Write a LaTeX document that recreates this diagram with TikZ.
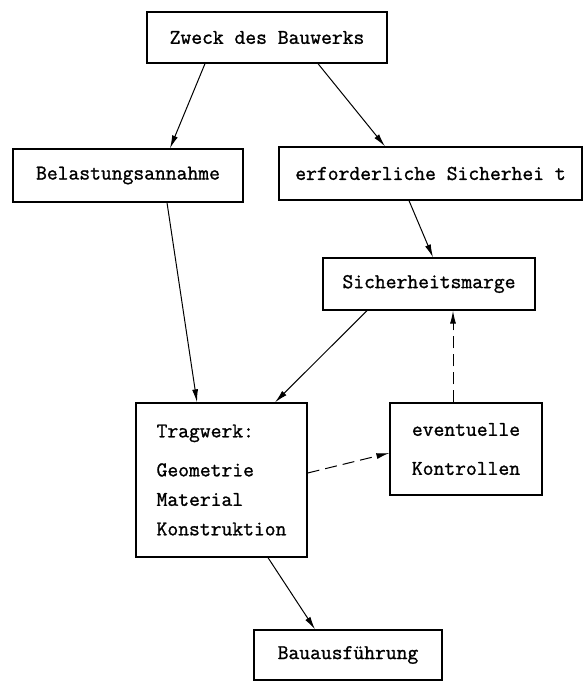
\documentclass[tikz,border=0pt]{standalone}
\usepackage{fontspec}
\newfontfamily\typew[FakeBold=1.2]{Latin Modern Mono}
\usetikzlibrary{arrows.meta,calc}
\tikzset{
  box/.style={draw, line width=1.3pt, inner sep=0pt, align=center,
    font=\typew\fontsize{21}{29.5}\selectfont},
  conn/.style={line width=1pt, -{Latex[length=13pt,width=6pt]}},
  dconn/.style={conn, dash pattern=on 12pt off 6pt},
}
\begin{document}
\begin{tikzpicture}[x=1pt,y=-1pt]
\useasboundingbox (0,0) rectangle (587,682);
\node[box, minimum width=240pt, minimum height=51pt] (zweck) at (267,37.5) {Zweck des Bauwerks};
\node[box, minimum width=230pt, minimum height=53pt] (bel) at (128,175.5) {Belastungsannahme};
\node[box, minimum width=303pt, minimum height=53pt] (erf) at (430.5,173.5) {erforderliche Sicherhei t};
\node[box, minimum width=212pt, minimum height=52pt] (sich) at (429,284) {Sicherheitsmarge};
\node[box, align=left, minimum width=171pt, minimum height=154pt] (trag) at (221.5,480)
  {Tragwerk:\\[9.5pt]Geometrie\\Material\\Konstruktion};
\node[box, align=left, minimum width=152pt, minimum height=92pt] (evt) at (466,449)
  {eventuelle\\[9.5pt]Kontrollen};
\node[box, minimum width=188pt, minimum height=50pt] (bau) at (348,655) {Bauausführung};

\draw[conn] ($(zweck.south)+(-62,0)$) -- ($(bel.north)+(42,0)$);
\draw[conn] ($(zweck.south)+(51,0)$) -- ($(erf.north)+(-45.5,0)$);
\draw[conn] ($(bel.south)+(39,0)$) -- ($(trag.north)+(-24.5,0)$);
\draw[conn] ($(erf.south)+(-21.5,0)$) -- ($(sich.north)+(4,0)$);
\draw[conn] ($(sich.south)+(-62,0)$) -- ($(trag.north)+(53.5,0)$);
\draw[dconn] ($(evt.north)+(-13,0)$) -- ($(sich.south)+(24,0)$);
\draw[dconn] ($(trag.east)+(0,-7)$) -- ($(evt.west)+(0,4)$);
\draw[conn] ($(trag.south)+(46.5,0)$) -- ($(bau.north)+(-33,0)$);
\end{tikzpicture}
\end{document}
